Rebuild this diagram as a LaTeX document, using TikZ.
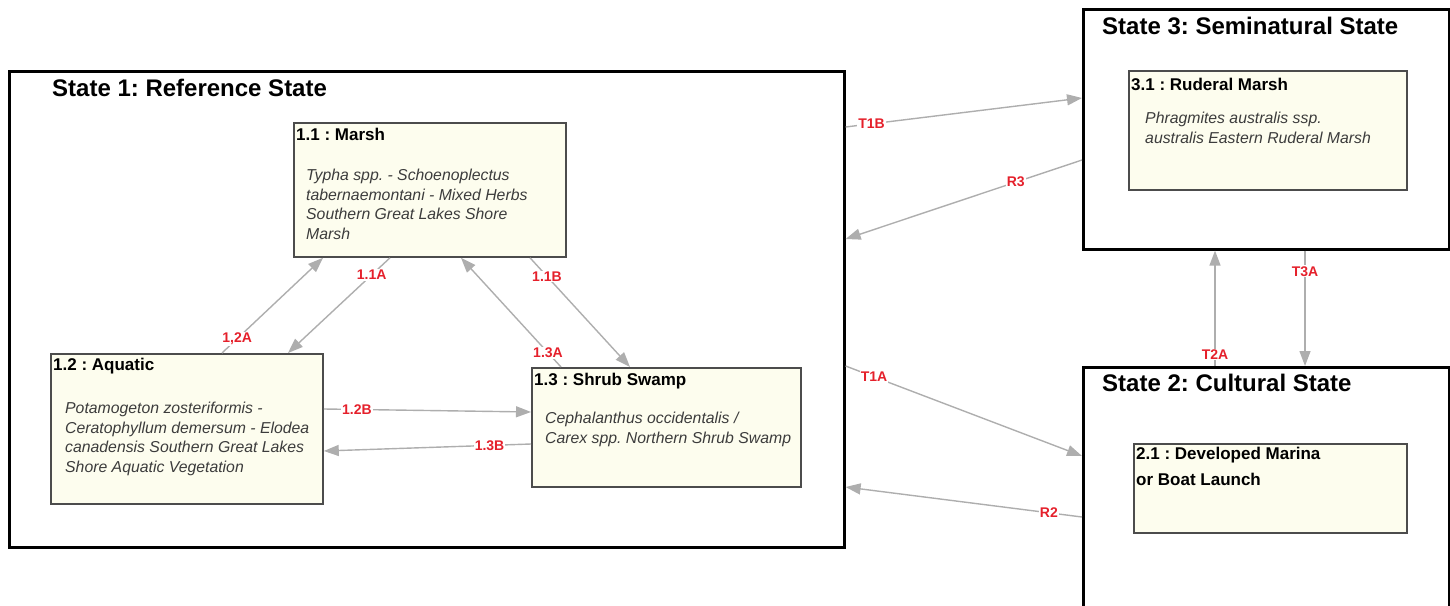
\documentclass[tikz,border=0pt]{standalone}
\usepackage{fontspec}
\setmainfont{Liberation Sans}
\usepackage{xcolor}
\definecolor{trans}{HTML}{E5202B}
\definecolor{arr}{HTML}{AEAEAE}
\definecolor{phase}{HTML}{FDFDEE}
\definecolor{txt}{HTML}{3C3C3C}
\usetikzlibrary{arrows.meta}
\frenchspacing

\begin{document}
\begin{tikzpicture}[x=1pt,y=-1pt,
    statebox/.style={draw=black,line width=2.6pt,anchor=north west,inner sep=0pt},
    phasebox/.style={draw=black!70,fill=phase,line width=1.8pt,anchor=north west,inner sep=0pt},
    ttl/.style={anchor=west,inner sep=0pt,font=\fontsize{24}{26}\selectfont\bfseries},
    hd/.style={anchor=west,inner sep=0pt,font=\fontsize{17}{22}\selectfont\bfseries},
    ds/.style={anchor=north west,inner sep=0pt,align=left,text=txt,font=\fontsize{15.8}{19.6}\selectfont\itshape},
    tr/.style={draw=arr,line width=1.4pt,-{Triangle[length=15pt,width=11pt]}},
    lbl/.style={fill=white,inner sep=1pt,text=trans,font=\fontsize{14}{14}\selectfont\bfseries}]
  \useasboundingbox (0,0) rectangle (1450,605);

  % states
  \node[statebox,minimum width=835pt,minimum height=476pt](s1) at (8,70) {};
  \node[ttl] (s1t) at (52,88) {State 1: Reference State};
  \node[statebox,minimum width=366pt,minimum height=240pt](s3) at (1082,8) {};
  \node[ttl] (s3t) at (1102,26) {State 3: Seminatural State};
  \node[statebox,minimum width=366pt,minimum height=245pt](s2) at (1082,366) {};
  \node[ttl] (s2t) at (1102,383) {State 2: Cultural State};

  % phases
  \node[phasebox,minimum width=272pt,minimum height=134pt](m11) at (293,122) {};
  \node[hd] (m11h) at (296,134) {1.1 : Marsh};
  \node[ds] (m11d) at (306,169) {Typha spp. - Schoenoplectus\\tabernaemontani - Mixed Herbs\\Southern Great Lakes Shore\\Marsh};

  \node[phasebox,minimum width=272pt,minimum height=150pt](m12) at (50,353) {};
  \node[hd] (m12h) at (53,366) {1.2 : Aquatic};
  \node[ds] (m12d) at (65,402) {Potamogeton zosteriformis -\\Ceratophyllum demersum - Elodea\\canadensis Southern Great Lakes\\Shore Aquatic Vegetation};

  \node[phasebox,minimum width=269pt,minimum height=119pt](m13) at (531,367) {};
  \node[hd] (m13h) at (534,381) {1.3 : Shrub Swamp};
  \node[ds] (m13d) at (545,412) {Cephalanthus occidentalis /\\Carex spp. Northern Shrub Swamp};

  \node[phasebox,minimum width=278pt,minimum height=119pt](m31) at (1128,70) {};
  \node[hd] (m31h) at (1131,84) {3.1 : Ruderal Marsh};
  \node[ds] (m31d) at (1145,112) {Phragmites australis ssp.\\australis Eastern Ruderal Marsh};

  \node[phasebox,minimum width=273pt,minimum height=89pt](m21) at (1133,443) {};
  \node[hd] (m21h) at (1136,455) {2.1 : Developed Marina};
  \node[hd] (m21h2) at (1136,479) {or Boat Launch};

  % transitions inside state 1
  \draw[tr] ([xshift=97pt]m11.south west) -- node[lbl,pos=0.18]{1.1A} ([xshift=238pt]m12.north west);
  \draw[tr] ([xshift=172pt]m12.north west) -- node[lbl,pos=0.15]{1,2A} ([xshift=30pt]m11.south west);
  \draw[tr] ([xshift=237pt]m11.south west) -- node[lbl,pos=0.17]{1.1B} ([xshift=99pt]m13.north west);
  \draw[tr] ([xshift=30pt]m13.north west) -- node[lbl,pos=0.13]{1.3A} ([xshift=168pt]m11.south west);
  \draw[tr] ([yshift=-56pt]m12.north east) -- node[lbl,pos=0.16]{1.2B} ([yshift=-45pt]m13.north west);
  \draw[tr] ([yshift=-77pt]m13.north west) -- node[lbl,pos=0.2]{1.3B} ([yshift=-98pt]m12.north east);

  % transitions between states
  \draw[tr] ([yshift=-57pt]s1.north east) -- node[lbl,pos=0.11]{T1B} ([yshift=-90pt]s3.north west);
  \draw[tr] ([yshift=-152pt]s3.north west) -- node[lbl,pos=0.28]{R3} ([yshift=-169pt]s1.north east);
  \draw[tr] ([yshift=-296pt]s1.north east) -- node[lbl,pos=0.12]{T1A} ([yshift=-90pt]s2.north west);
  \draw[tr] ([yshift=-151pt]s2.north west) -- node[lbl,pos=0.14]{R2} ([yshift=-417pt]s1.north east);
  \draw[tr] ([xshift=133pt]s2.north west) -- node[lbl,pos=0.1]{T2A} ([xshift=133pt]s3.south west);
  \draw[tr] ([xshift=223pt]s3.south west) -- node[lbl,pos=0.18]{T3A} ([xshift=223pt]s2.north west);
\end{tikzpicture}
\end{document}
